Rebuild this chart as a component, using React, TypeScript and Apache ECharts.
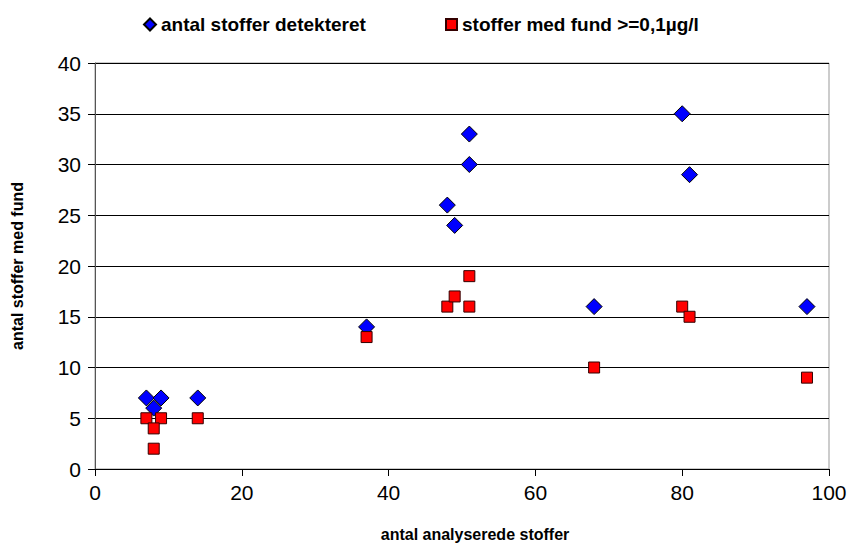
import React, { useEffect, useRef } from "react";
import * as echarts from "echarts";

const blueX = [7, 9, 8, 14, 37, 48, 49, 51, 51, 68, 80, 81, 97];
const blueY = [7, 7, 6, 7, 14, 26, 24, 33, 30, 16, 35, 29, 16];
const redX = [7, 9, 8, 8, 14, 37, 48, 49, 51, 51, 68, 80, 81, 97];
const redY = [5, 5, 4, 2, 5, 13, 16, 17, 19, 16, 10, 16, 15, 9];
const seriesNames = ["antal stoffer detekteret", "stoffer med fund >=0,1µg/l"];
const xName = "antal analyserede stoffer";
const yName = "antal stoffer med fund";

export default function App() {
  const ref = useRef<HTMLDivElement>(null);
  useEffect(() => {
    if (!ref.current) return;
    const chart = echarts.init(ref.current, null, { renderer: "svg" });
    const font = "Arial, 'Liberation Sans', sans-serif";
    const legendText = { fontFamily: font, fontWeight: "bold", fontSize: 19, color: "#000" };
    chart.setOption({
      animation: false,
      backgroundColor: "#fff",
      textStyle: { fontFamily: font },
      legend: [
        {
          data: [{ name: seriesNames[0], icon: "diamond" }],
          left: 138,
          top: 10,
          itemWidth: 12,
          itemHeight: 12,
          itemGap: 4,
          textStyle: legendText,
        },
        {
          data: [{ name: seriesNames[1], icon: "rect" }],
          left: 440,
          top: 10,
          itemWidth: 11,
          itemHeight: 11,
          itemGap: 4,
          textStyle: legendText,
        },
      ],
      grid: {
        left: 95,
        right: 25,
        top: 63,
        bottom: 70,
        show: true,
        borderColor: "#999",
        borderWidth: 1,
      },
      xAxis: {
        type: "value",
        min: 0,
        max: 100,
        interval: 20,
        name: xName,
        nameLocation: "middle",
        nameGap: 57,
        nameTextStyle: {
          fontFamily: font,
          fontWeight: "bold",
          fontSize: 16,
          color: "#000",
          padding: [0, 0, 0, 26],
        },
        axisLine: { show: true, lineStyle: { color: "#000", width: 1 } },
        axisTick: { show: true, inside: false, length: 7, lineStyle: { color: "#000" } },
        axisLabel: { fontFamily: font, fontSize: 21, color: "#000", margin: 13 },
        splitLine: { show: false },
      },
      yAxis: {
        type: "value",
        min: 0,
        max: 40,
        interval: 5,
        name: yName,
        nameLocation: "middle",
        nameGap: 70,
        nameTextStyle: { fontFamily: font, fontWeight: "bold", fontSize: 16, color: "#000" },
        axisLine: { show: true, lineStyle: { color: "#555", width: 1 } },
        axisTick: { show: true, inside: false, length: 7, lineStyle: { color: "#000" } },
        axisLabel: { fontFamily: font, fontSize: 21, color: "#000", margin: 14 },
        splitLine: { show: true, lineStyle: { color: "#000", width: 1 } },
      },
      series: [
        {
          name: seriesNames[0],
          type: "scatter",
          symbol: "diamond",
          symbolSize: 16,
          itemStyle: { color: "#0000FF", borderColor: "#000", borderWidth: 1, opacity: 1 },
          data: blueX.map((x, i) => [x, blueY[i]]),
        },
        {
          name: seriesNames[1],
          type: "scatter",
          symbol: "rect",
          symbolSize: 11,
          itemStyle: { color: "#FF0000", borderColor: "#300", borderWidth: 1, opacity: 1 },
          data: redX.map((x, i) => [x, redY[i]]),
        },
      ],
    });
    return () => chart.dispose();
  }, []);
  return (
    <div
      ref={ref}
      style={{ position: "fixed", left: 0, top: 0, width: 854, height: 547 }}
    />
  );
}
